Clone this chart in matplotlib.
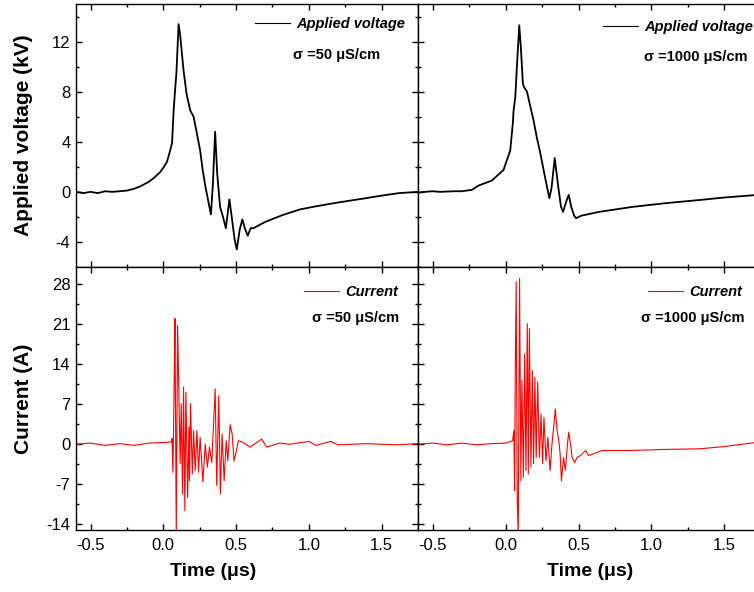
import numpy as np
import matplotlib
matplotlib.use("Agg")
import matplotlib.pyplot as plt
from matplotlib.ticker import MultipleLocator

plt.rcParams['font.family'] = ['Liberation Sans', 'DejaVu Sans']
plt.rcParams['axes.unicode_minus'] = False

# applied voltage, sigma = 50 uS/cm  (time in us, voltage in kV)
t_v50 = [-0.60, -0.55, -0.50, -0.45, -0.40, -0.35, -0.30, -0.25, -0.20, -0.157,
         -0.10, -0.066, -0.02, 0.01, 0.025, 0.04, 0.06, 0.07, 0.08, 0.09,
         0.105, 0.115, 0.139, 0.16, 0.185, 0.208, 0.23, 0.253, 0.27, 0.288,
         0.31, 0.327, 0.34, 0.356, 0.37, 0.39, 0.41, 0.43, 0.454, 0.47,
         0.49, 0.505, 0.525, 0.543, 0.56, 0.58, 0.60, 0.62, 0.70, 0.82,
         0.94, 1.05, 1.20, 1.395, 1.50, 1.62, 1.75]
v50 = [0.0, -0.1, 0.0, -0.1, 0.05, 0.0, 0.05, 0.1, 0.25, 0.45,
       0.8, 1.1, 1.6, 2.1, 2.4, 3.0, 3.9, 6.3, 8.0, 9.5,
       13.4, 12.6, 9.7, 7.8, 6.5, 6.0, 4.7, 3.3, 1.8, 0.5,
       -0.8, -1.8, 0.5, 4.8, 1.5, -1.2, -2.0, -2.9, -0.6, -2.0,
       -3.8, -4.6, -3.0, -2.2, -2.9, -3.5, -2.9, -2.9, -2.4, -1.85,
       -1.4, -1.15, -0.85, -0.5, -0.3, -0.1, 0.0]

# applied voltage, sigma = 1000 uS/cm
t_v1000 = [-0.60, -0.50, -0.45, -0.35, -0.30, -0.23, -0.186, -0.094, -0.014, 0.032,
           0.05, 0.055, 0.067, 0.08, 0.094, 0.105, 0.119, 0.13, 0.147, 0.17,
           0.192, 0.215, 0.238, 0.27, 0.30, 0.315, 0.337, 0.36, 0.38, 0.394,
           0.415, 0.433, 0.45, 0.47, 0.483, 0.52, 0.64, 0.87, 1.10, 1.33,
           1.50, 1.73]
v1000 = [-0.05, 0.05, 0.0, 0.05, 0.05, 0.16, 0.5, 0.9, 1.75, 3.3,
         5.5, 6.5, 7.6, 10.5, 13.3, 11.5, 8.6, 8.3, 8.0, 6.8,
         5.7, 4.3, 3.1, 1.2, -0.5, 0.3, 2.7, 0.5, -1.2, -1.6,
         -0.8, -0.24, -1.2, -1.9, -2.1, -1.9, -1.6, -1.2, -0.9, -0.65,
         -0.45, -0.24]

# current, sigma = 50 uS/cm  (A)
t_i50 = [-0.60, -0.50, -0.40, -0.30, -0.20, -0.10, 0.0, 0.055, 0.06, 0.066,
         0.075, 0.08, 0.089, 0.098, 0.116, 0.123, 0.132, 0.139, 0.148, 0.155,
         0.167, 0.176, 0.18, 0.187, 0.199, 0.208, 0.219, 0.231, 0.242, 0.253,
         0.272, 0.288, 0.303, 0.317, 0.333, 0.356, 0.367, 0.381, 0.392, 0.404,
         0.418, 0.432, 0.443, 0.459, 0.473, 0.486, 0.50, 0.516, 0.55, 0.596,
         0.676, 0.71, 0.80, 0.87, 1.00, 1.05, 1.15, 1.20, 1.40, 1.60, 1.75]
i50 = [0.0, 0.2, -0.2, 0.1, -0.2, 0.2, 0.3, 0.4, 1.0, -4.9,
       11.2, 22.0, -16.0, 20.8, -3.4, 7.1, -8.7, 10.0, -11.6, 9.1,
       -9.3, 3.0, -6.4, 7.1, -5.2, 2.4, -4.6, 2.4, -4.9, 1.2,
       -6.6, 0.0, -4.0, -0.5, -3.2, 9.7, -7.2, 8.5, -8.7, 1.8,
       -6.4, 0.6, -2.9, 3.4, 1.8, -2.9, -1.4, 0.6, 0.3, -0.5,
       0.9, -0.5, 0.2, 0.0, 0.5, -0.2, 0.5, -0.1, 0.1, -0.1, 0.1]

# current, sigma = 1000 uS/cm
t_i1000 = [-0.60, -0.50, -0.40, -0.30, -0.20, -0.10, 0.0, 0.048, 0.057, 0.062,
           0.067, 0.073, 0.08, 0.087, 0.096, 0.105, 0.112, 0.122, 0.131, 0.14,
           0.149, 0.156, 0.163, 0.174, 0.183, 0.192, 0.201, 0.21, 0.22, 0.232,
           0.243, 0.254, 0.263, 0.277, 0.29, 0.305, 0.318, 0.33, 0.341, 0.353,
           0.365, 0.374, 0.383, 0.397, 0.41, 0.424, 0.433, 0.445, 0.456, 0.474,
           0.49, 0.513, 0.548, 0.57, 0.66, 0.845, 1.10, 1.33, 1.50, 1.73]
i1000 = [0.0, 0.2, -0.1, 0.2, -0.1, 0.1, 0.2, 0.6, 2.4, -8.1,
         14.0, 28.4, -9.9, -16.0, 29.0, -6.4, 11.2, -5.8, 15.8, -4.6,
         21.1, -5.2, 20.2, -4.0, 12.9, -3.4, 11.7, -2.3, 10.9, -2.3,
         5.3, -3.4, 4.7, -2.9, 1.2, -4.6, 0.0, 3.0, 6.2, 2.4,
         0.6, -1.7, -6.4, -2.3, -4.6, 0.0, 2.1, 0.0, -2.3, -3.2,
         -2.3, -2.0, -1.1, -2.0, -1.1, -1.1, -0.9, -0.8, -0.4, 0.35]

fig = plt.figure(figsize=(7.54, 5.92), dpi=100)
W, H = 754, 592


def box(x0, y0, x1, y1):
    return [x0 / W, 1 - y1 / H, (x1 - x0) / W, (y1 - y0) / H]


ax_v50 = fig.add_axes(box(76, 4, 418, 267))
ax_v1000 = fig.add_axes(box(418, 4, 758, 267))
ax_i50 = fig.add_axes(box(76, 267, 418, 530))
ax_i1000 = fig.add_axes(box(418, 267, 758, 530))

ax_v50.plot(t_v50, v50, color='black', lw=1.3, label='Applied voltage')
ax_v1000.plot(t_v1000, v1000, color='black', lw=1.3, label='Applied voltage')
ax_i50.plot(t_i50, i50, color='#ff0000', lw=0.8, label='Current')
ax_i1000.plot(t_i1000, i1000, color='#ff0000', lw=0.8, label='Current')

for ax in [ax_v50, ax_v1000, ax_i50, ax_i1000]:
    ax.xaxis.set_major_locator(MultipleLocator(0.5))
    ax.xaxis.set_minor_locator(MultipleLocator(0.25))
    ax.tick_params(which='both', direction='in', top=True, right=True,
                   labelsize=12, width=1)
    ax.tick_params(which='major', length=4)
    ax.tick_params(which='minor', length=2.2)
    ax.tick_params(axis='x', pad=6)
    ax.tick_params(axis='y', pad=4)
    for s in ax.spines.values():
        s.set_linewidth(1.0)

ax_v50.set_xlim(-0.6, 1.75)
ax_i50.set_xlim(-0.6, 1.75)
ax_v1000.set_xlim(-0.6, 1.73)
ax_i1000.set_xlim(-0.6, 1.73)

for ax in [ax_v50, ax_v1000]:
    ax.set_ylim(-6, 15)
    ax.yaxis.set_major_locator(MultipleLocator(4))
    ax.yaxis.set_minor_locator(MultipleLocator(2))
    ax.tick_params(labelbottom=False)

for ax in [ax_i50, ax_i1000]:
    ax.set_ylim(-15, 31)
    ax.yaxis.set_major_locator(MultipleLocator(7))
    ax.yaxis.set_minor_locator(MultipleLocator(3.5))
    ax.xaxis.set_major_formatter(plt.FormatStrFormatter('%.1f'))

ax_v1000.tick_params(which='both', labelleft=False, right=False)
ax_i1000.tick_params(which='both', labelleft=False, right=False)

ax_v50.set_ylabel('Applied voltage (kV)', fontsize=15, fontweight='bold')
ax_i50.set_ylabel('Current (A)', fontsize=15, fontweight='bold')
ax_v50.yaxis.set_label_coords(-0.126, 0.5)
ax_i50.yaxis.set_label_coords(-0.126, 0.5)

ax_i50.set_xlabel('Time (\u03bcs)', fontsize=14, fontweight='bold')
ax_i1000.set_xlabel('Time (\u03bcs)', fontsize=14, fontweight='bold')
ax_i50.xaxis.set_label_coords(0.40, -0.125)
ax_i1000.xaxis.set_label_coords(0.506, -0.125)

leg_font = {'weight': 'bold', 'style': 'italic', 'size': 10.5}
legend_spots = [(ax_v50, 0.962, 0.924), (ax_v1000, 0.985, 0.912),
                (ax_i50, 0.9415, 0.905), (ax_i1000, 0.953, 0.905)]
for ax, lx, ly in legend_spots:
    leg = ax.legend(loc='center right', bbox_to_anchor=(lx, ly), frameon=False,
                    prop=leg_font, borderpad=0, borderaxespad=0,
                    handlelength=2.4, handletextpad=0.4)
    for h in leg.get_lines():
        h.set_linewidth(0.8)

sigma_spots = [(ax_v50, '\u03c3 =50 \u03bcS/cm', 0.889, 0.806),
               (ax_v1000, '\u03c3 =1000 \u03bcS/cm', 0.97, 0.798),
               (ax_i50, '\u03c3 =50 \u03bcS/cm', 0.944, 0.806),
               (ax_i1000, '\u03c3 =1000 \u03bcS/cm', 0.959, 0.806)]
for ax, txt, sx, sy in sigma_spots:
    ax.text(sx, sy, txt, transform=ax.transAxes, ha='right', va='center',
            fontsize=10.5, fontweight='bold')

fig.savefig('out.png', dpi=100)
